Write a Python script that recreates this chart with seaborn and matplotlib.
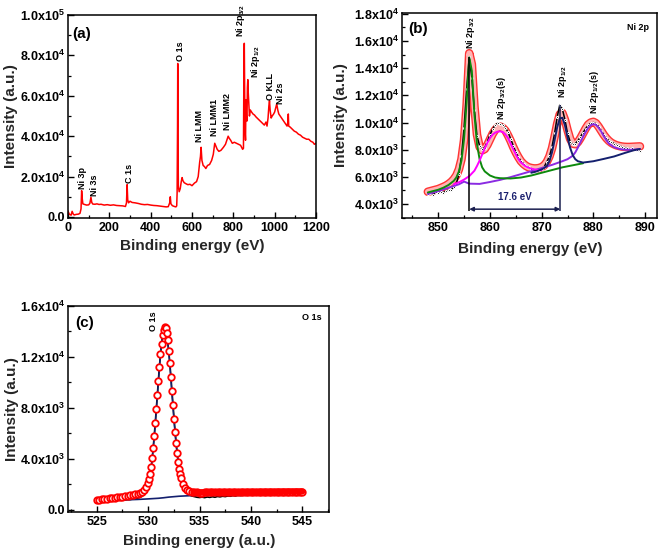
import numpy as np
import matplotlib
matplotlib.use("Agg")
import matplotlib.pyplot as plt
import matplotlib.patheffects as pe
import seaborn as sns
from matplotlib.ticker import MultipleLocator

# ---------------- data: (a) survey spectrum ----------------
survey_x = [0, 5, 10, 15, 20, 25, 30, 40, 50, 58, 63, 66, 69, 72, 80, 90, 100, 106, 111, 115,
            120, 130, 140, 150, 160, 175, 190, 205, 220, 235, 250, 265, 278, 283, 286, 289, 293,
            300, 310, 325, 340, 355, 370, 385, 400, 415, 430, 445, 460, 475, 485, 492, 495, 498,
            505, 515, 522, 526, 528, 530, 531, 532, 534, 538, 543, 548, 552, 556, 562, 570, 580,
            590, 600, 612, 622, 630, 637, 641, 644, 648, 654, 660, 667, 675, 685, 695, 703, 710,
            716, 722, 730, 740, 752, 762, 770, 775, 780, 787, 795, 805, 815, 825, 835, 845, 849,
            851, 853, 855, 857, 859, 861, 863, 866, 868, 870, 872, 875, 878, 882, 888, 895, 902,
            910, 920, 930, 940, 950, 958, 963, 968, 972, 975, 978, 983, 988, 995, 1000, 1005,
            1010, 1015, 1020, 1030, 1040, 1050, 1060, 1064, 1066, 1068, 1075, 1085, 1095, 1105,
            1115, 1125, 1135, 1145, 1155, 1165, 1175, 1185, 1192, 1200]
survey_y = [3000, 1500, 1200, 900, 2800, 1500, 1000, 1300, 1400, 1800, 4000, 13000, 9000, 6500,
            6200, 5900, 6000, 6800, 9800, 7200, 6400, 6300, 6500, 6200, 6300, 5900, 6100, 5800,
            6000, 5700, 5600, 5500, 5200, 7000, 16000, 8500, 7000, 7800, 7200, 7000, 6700, 6300,
            6100, 6200, 5900, 5700, 5600, 5400, 5200, 5000, 5100, 7000, 10000, 6500, 5600, 5200,
            5000, 5500, 12000, 45000, 76000, 42000, 15000, 12500, 14000, 17500, 19500, 18000,
            17000, 16500, 16000, 16200, 15500, 16800, 17500, 20000, 27000, 30000, 34500, 28000,
            25500, 25000, 24000, 25500, 26000, 28000, 31000, 36500, 35000, 33500, 32500, 33000,
            34500, 36000, 38500, 40000, 39000, 38000, 36500, 37000, 36500, 36000, 35500, 33500,
            34000, 70000, 86000, 60000, 42000, 38000, 58000, 50000, 47500, 64000, 68000, 62000,
            56000, 50000, 53000, 52000, 51000, 50500, 49500, 48500, 47500, 46500, 45500, 47000,
            45000, 49000, 55000, 57500, 53000, 49000, 50000, 51000, 52000, 54000, 56000, 53000,
            51000, 49500, 48000, 46500, 45000, 47000, 51000, 45000, 44500, 43500, 42500, 42000,
            41000, 40500, 39500, 39000, 38500, 38500, 37500, 37000, 36000, 36500]
survey_labels = ["Ni 3p", "Ni 3s", "C 1s", "O 1s", "Ni LMM", "Ni LMM1", "Ni LMM2",
                 "Ni 2p$_{3/2}$", "Ni 2p$_{1/2}$", "O KLL", "Ni 2s"]
survey_label_x = [68, 130, 300, 542, 635, 708, 773, 835, 909, 981, 1030]
survey_label_y = [14000, 10400, 17000, 77000, 37000, 40000, 43000, 89000, 69000, 58000, 56000]
survey_yticks = [0, 20000, 40000, 60000, 80000, 100000]
survey_yticklabels = ["0.0", "2.0x10$^{4}$", "4.0x10$^{4}$", "6.0x10$^{4}$", "8.0x10$^{4}$", "1.0x10$^{5}$"]

# ---------------- data: (b) Ni 2p ----------------
ni_x = np.arange(848.0, 889.01, 0.5)
ni_raw = [4750, 4820, 4690, 4860, 4780, 4920, 4840, 4960, 5010, 5040, 5220, 5480, 6200, 7500,
          9600, 12500, 14800, 13300, 10900, 9000, 8300, 8050, 8150, 8600, 9100, 9500, 9800,
          9950, 9900, 9850, 9600, 9300, 8800, 8300, 7800, 7450, 7150, 6950, 6800, 6700, 6600,
          6500, 6450, 6500, 6600, 6750, 7100, 7500, 8200, 9200, 10400, 11300, 11000, 10200,
          9200, 8600, 8400, 8450, 8650, 8950, 9250, 9550, 9800, 9950, 10000, 9900, 9700, 9400,
          9100, 8850, 8650, 8550, 8450, 8350, 8300, 8200, 8150, 8100, 8050, 8100, 7950, 8000, 7900]
ni_fit = [4900, 4950, 5000, 5050, 5100, 5180, 5260, 5350, 5470, 5620, 5820, 6100, 6550, 7300,
          8700, 11300, 15100, 14300, 11200, 9100, 8200, 7950, 8050, 8350, 8750, 9150, 9450,
          9650, 9700, 9600, 9400, 9050, 8650, 8200, 7800, 7450, 7150, 6950, 6800, 6700, 6650,
          6620, 6620, 6650, 6720, 6850, 7100, 7500, 8100, 8950, 9900, 10600, 10700, 10200,
          9450, 8800, 8450, 8400, 8550, 8850, 9200, 9550, 9850, 10000, 10050, 9950, 9700, 9400,
          9100, 8850, 8650, 8500, 8400, 8320, 8270, 8230, 8210, 8200, 8200, 8210, 8220, 8230, 8240]
green_x = [848, 849, 850, 851, 852, 853, 853.5, 854, 854.5, 855, 855.5, 856, 856.5, 857, 857.5,
           858, 858.5, 859, 860, 861, 862, 864, 866, 868, 870, 872, 874, 876, 878]
green_y = [4850, 4950, 5050, 5200, 5400, 5700, 5950, 6400, 7200, 8800, 11500, 14800, 13800,
           10600, 8400, 7300, 6700, 6400, 6100, 5950, 5900, 5880, 5950, 6100, 6300, 6500, 6700,
           6850, 7000]
magenta_x = [853, 854, 855, 856, 857, 857.5, 858, 858.5, 859, 859.5, 860, 860.5, 861, 861.5, 862,
             862.5, 863, 863.5, 864, 864.5, 865, 865.5, 866, 867, 868, 869, 870]
magenta_y = [5450, 5600, 5800, 6050, 6450, 6800, 7200, 7650, 8100, 8500, 8850, 9100, 9250, 9330,
             9350, 9300, 9120, 8850, 8450, 8050, 7650, 7300, 7050, 6750, 6600, 6520, 6500]
navy_x = [868, 869, 870, 870.5, 871, 871.5, 872, 872.5, 873, 873.5, 874, 874.5, 875, 875.5, 876,
          876.5, 877, 878, 880, 882, 884, 886, 888, 889]
navy_y = [6300, 6400, 6550, 6650, 6800, 7150, 7800, 8700, 9650, 10300, 10350, 9800, 8900, 8150,
          7600, 7300, 7150, 7050, 7150, 7320, 7500, 7750, 7980, 8050]
purple_x = [848, 850, 852, 854, 855, 856, 858, 860, 862, 864, 866, 868, 870, 872, 874, 875, 876,
            876.5, 877, 877.5, 878, 878.5, 879, 879.5, 880, 880.5, 881, 881.5, 882, 882.5, 883,
            884, 885, 886, 887, 888, 889]
purple_y = [4740, 4950, 5200, 5450, 5650, 5500, 5480, 5620, 5780, 5980, 6200, 6420, 6650, 6880,
            7150, 7300, 7550, 7800, 8150, 8550, 8950, 9300, 9600, 9800, 9880, 9820, 9620, 9350,
            9000, 8700, 8450, 8180, 8060, 8000, 7990, 8010, 8050]
ni_labels = ["Ni 2p$_{3/2}$", "Ni 2p$_{3/2}$(s)", "Ni 2p$_{1/2}$", "Ni 2p$_{1/2}$(s)"]
ni_label_x = [856.2, 862.3, 874.0, 880.3]
ni_label_y = [15400, 10200, 11800, 10600]
ni_peak_pos = [856.0, 873.6]
ni_peak_top = [14800, 11300]
ni_split_text = "17.6 eV"
ni_yticks = [4000, 6000, 8000, 10000, 12000, 14000, 16000, 18000]
ni_yticklabels = ["4.0x10$^{3}$", "6.0x10$^{3}$", "8.0x10$^{3}$", "1.0x10$^{4}$",
                  "1.2x10$^{4}$", "1.4x10$^{4}$", "1.6x10$^{4}$", "1.8x10$^{4}$"]

# ---------------- data: (c) O 1s ----------------
o_x = [525.0, 525.25, 525.5, 525.75, 526.0, 526.25, 526.5, 526.75, 527.0, 527.25, 527.5, 527.75,
       528.0, 528.25, 528.5, 528.75, 529.0, 529.2, 529.4, 529.6, 529.8, 530.0, 530.1, 530.2,
       530.3, 530.4, 530.5, 530.6, 530.7, 530.8, 530.9, 531.0, 531.1, 531.2, 531.3, 531.4,
       531.5, 531.6, 531.7, 531.8, 531.9, 532.0, 532.1, 532.2, 532.3, 532.4, 532.5, 532.6,
       532.7, 532.8, 532.9, 533.0, 533.1, 533.2, 533.4, 533.6, 533.8, 534.0, 534.25, 534.5,
       534.75, 535.0, 535.25, 535.5, 535.75, 536.0, 536.25, 536.5, 536.75, 537.0, 537.25,
       537.5, 537.75, 538.0, 538.25, 538.5, 538.75, 539.0, 539.25, 539.5, 539.75, 540.0,
       540.25, 540.5, 540.75, 541.0, 541.25, 541.5, 541.75, 542.0, 542.25, 542.5, 542.75,
       543.0, 543.25, 543.5, 543.75, 544.0, 544.25, 544.5, 544.75, 545.0]
o_fit = [800, 820, 845, 865, 890, 910, 935, 960, 985, 1010, 1040, 1070, 1100, 1140, 1180, 1230,
         1290, 1360, 1450, 1580, 1780, 2100, 2400, 2800, 3350, 4100, 4900, 5800, 6800, 7900,
         9000, 10100, 11200, 12200, 13000, 13700, 14150, 14350, 14250, 13900, 13300, 12500,
         11500, 10400, 9300, 8200, 7150, 6150, 5250, 4450, 3800, 3250, 2820, 2480, 2030, 1760,
         1600, 1500, 1440, 1400, 1380, 1370, 1372, 1374, 1377, 1379, 1381, 1383, 1386, 1388,
         1390, 1392, 1394, 1396, 1398, 1400, 1402, 1404, 1406, 1408, 1410, 1412, 1414, 1416,
         1418, 1420, 1422, 1424, 1426, 1428, 1430, 1432, 1434, 1436, 1438, 1440, 1442, 1444,
         1446, 1448, 1449, 1450]
o_raw = [700, 690, 720, 700, 740, 720, 760, 740, 780, 760, 800, 790, 830, 820, 860, 880, 930,
         990, 1080, 1250, 1550, 1950, 2300, 2750, 3350, 4100, 4950, 5900, 6900, 8000, 9100,
         10200, 11300, 12200, 13000, 13600, 14000, 14100, 14000, 13700, 13200, 12500, 11600,
         10600, 9500, 8450, 7400, 6400, 5500, 4700, 4000, 3400, 2900, 2500, 1950, 1600, 1350,
         1200, 1100, 1050, 1000, 980, 1010, 970, 1020, 990, 1040, 1000, 1060, 1030, 1080,
         1050, 1100, 1080, 1130, 1100, 1150, 1130, 1170, 1150, 1200, 1180, 1220, 1200, 1240,
         1230, 1270, 1250, 1290, 1280, 1310, 1300, 1330, 1320, 1350, 1340, 1370, 1360, 1390,
         1380, 1410, 1400]
o_bg_x = [525, 527, 529, 530, 531, 531.5, 532, 533, 534, 535, 540, 545]
o_bg_y = [720, 770, 830, 870, 920, 960, 1010, 1080, 1120, 1150, 1280, 1410]
o_dense_from = 534.5
o_yticks = [0, 4000, 8000, 12000, 16000]
o_yticklabels = ["0.0", "4.0x10$^{3}$", "8.0x10$^{3}$", "1.2x10$^{4}$", "1.6x10$^{4}$"]

# ---------------- style ----------------
sns.set_theme(style="white")
plt.rcParams.update({
    "font.family": ["Liberation Sans", "DejaVu Sans"],
    "font.weight": "bold",
    "axes.labelweight": "bold",
    "mathtext.fontset": "custom",
    "mathtext.rm": "Liberation Sans:bold",
    "mathtext.bf": "Liberation Sans:bold",
    "mathtext.it": "Liberation Sans:bold",
    "mathtext.default": "rm",
    "axes.edgecolor": "black",
    "axes.linewidth": 1.1,
    "xtick.color": "black",
    "ytick.color": "black",
    "text.color": "black",
})

W, H = 661, 553
fig = plt.figure(figsize=(W / 100, H / 100), dpi=100)


def rect(l, t, r, b):
    return [l / W, 1 - b / H, (r - l) / W, (b - t) / H]


def style_axes(ax, xmaj, xmin, ymin):
    ax.xaxis.set_major_locator(MultipleLocator(xmaj))
    ax.xaxis.set_minor_locator(MultipleLocator(xmin))
    ax.yaxis.set_minor_locator(MultipleLocator(ymin))
    ax.tick_params(which="both", direction="in", top=False, right=False, left=True, bottom=True)
    ax.tick_params(which="major", length=4, width=1, labelsize=9, pad=3)
    ax.tick_params(which="minor", length=2.2, width=0.9)
    ax.tick_params(axis="y", which="major", pad=2)
    for s in ax.spines.values():
        s.set_color("black")
        s.set_linewidth(1.1)
    for lab in ax.get_xticklabels() + ax.get_yticklabels():
        lab.set_fontweight("bold")


def labels(ax, xl, yl, xlx, xly, ylx):
    ax.set_xlabel(xl, fontsize=11, fontweight="bold")
    ax.set_ylabel(yl, fontsize=11, fontweight="bold")
    ax.xaxis.set_label_coords(xlx, xly)
    ax.xaxis.label.set_verticalalignment("center")
    ax.yaxis.set_label_coords(ylx, 0.5)
    ax.yaxis.label.set_verticalalignment("center")
    ax.yaxis.label.set_horizontalalignment("center")


# ---------------- (a) ----------------
axa = fig.add_axes(rect(68, 15, 316, 218))
sns.lineplot(x=survey_x, y=survey_y, ax=axa, color="#ff0000", linewidth=1.1,
             estimator=None, sort=False)
axa.set_xlim(0, 1200)
axa.set_ylim(-500, 100000)
axa.set_yticks(survey_yticks)
axa.set_yticklabels(survey_yticklabels)
style_axes(axa, 200, 100, 10000)
for lx, ly, lt in zip(survey_label_x, survey_label_y, survey_labels):
    axa.text(lx, ly, lt, rotation=90, ha="center", va="bottom", fontsize=6.5, fontweight="bold")
axa.text(0.018, 0.94, "(a)", transform=axa.transAxes, fontsize=11, fontweight="bold",
         ha="left", va="top")
labels(axa, "Binding energy (eV)", "Intensity (a.u.)", 0.5, -0.14, -0.23)

# ---------------- (b) ----------------
axb = fig.add_axes(rect(402, 12.5, 657, 218))
band = sns.lineplot(x=ni_x, y=ni_fit, ax=axb, color="#ffb4b4", linewidth=4.2, estimator=None,
                    sort=False, zorder=1)
band.lines[-1].set_path_effects([pe.Stroke(linewidth=6.2, foreground="#ff3434"), pe.Normal()])
band.lines[-1].set_solid_joinstyle("round")
band.lines[-1].set_solid_capstyle("round")
sns.lineplot(x=ni_x, y=ni_raw, ax=axb, color="black", linewidth=1.1, marker=".",
             markersize=3, estimator=None, sort=False, zorder=3)
sns.lineplot(x=purple_x, y=purple_y, ax=axb, color="#8a2be2", linewidth=1.4, estimator=None,
             sort=False, zorder=4)
sns.lineplot(x=green_x, y=green_y, ax=axb, color="#0d8a0d", linewidth=1.4, estimator=None,
             sort=False, zorder=4)
sns.lineplot(x=magenta_x, y=magenta_y, ax=axb, color="#ff00ff", linewidth=1.4, estimator=None,
             sort=False, zorder=4)
sns.lineplot(x=navy_x, y=navy_y, ax=axb, color="#14206e", linewidth=1.4, estimator=None,
             sort=False, zorder=4)
axb.vlines(ni_peak_pos[0], 3500, ni_peak_top[0], color="black", linewidth=1.1, zorder=5)
axb.vlines(ni_peak_pos[1], 3500, ni_peak_top[1], color="#1a1f4f", linewidth=1.1, zorder=5)
axb.annotate("", xy=(ni_peak_pos[0], 3620), xytext=(ni_peak_pos[1], 3620),
             arrowprops=dict(arrowstyle="<|-|>", color="#1a1f4f", lw=1.1,
                             mutation_scale=6, shrinkA=0, shrinkB=0))
axb.text((ni_peak_pos[0] + ni_peak_pos[1]) / 2, 4550, ni_split_text, ha="center", va="center",
         fontsize=7, fontweight="bold", color="#1a1f6e")
for lx, ly, lt in zip(ni_label_x, ni_label_y, ni_labels):
    axb.text(lx, ly, lt, rotation=90, ha="center", va="bottom", fontsize=6.5, fontweight="bold")
axb.set_xlim(843, 892.3)
axb.set_ylim(2970, 18100)
axb.set_yticks(ni_yticks)
axb.set_yticklabels(ni_yticklabels)
style_axes(axb, 10, 5, 1000)
axb.text(0.025, 0.955, "(b)", transform=axb.transAxes, fontsize=11, fontweight="bold",
         ha="left", va="top")
axb.text(0.97, 0.95, "Ni 2p", transform=axb.transAxes, fontsize=6.5, fontweight="bold",
         ha="right", va="top")
labels(axb, "Binding energy (eV)", "Intensity (a.u.)", 0.502, -0.151, -0.239)

# ---------------- (c) ----------------
axc = fig.add_axes(rect(68, 306, 329, 512))
sns.lineplot(x=o_x, y=o_raw, ax=axc, color="black", linewidth=1.2, estimator=None,
             sort=False, zorder=1)
sns.lineplot(x=o_bg_x, y=o_bg_y, ax=axc, color="#14206e", linewidth=1.2, estimator=None,
             sort=False, zorder=2)
sns.lineplot(x=o_x, y=o_fit, ax=axc, color="#14206e", linewidth=1.0, estimator=None,
             sort=False, zorder=2)
sns.scatterplot(x=o_x, y=o_fit, ax=axc, s=22, color="white", edgecolor="#ff0000",
                linewidth=1.3, zorder=3)
dense_x = [v for v in o_x if v >= o_dense_from]
dense_y = [f for v, f in zip(o_x, o_fit) if v >= o_dense_from]
sns.lineplot(x=dense_x, y=dense_y, ax=axc, color="#ff0000", linewidth=4.6, estimator=None,
             sort=False, zorder=4)
axc.lines[-1].set_solid_capstyle("round")
axc.set_xlim(522.2, 547.6)
axc.set_ylim(-157, 16000)
axc.set_yticks(o_yticks)
axc.set_yticklabels(o_yticklabels)
style_axes(axc, 5, 2.5, 2000)
axc.text(530.5, 14000, "O 1s", rotation=90, ha="center", va="bottom", fontsize=6.5,
         fontweight="bold")
axc.text(0.028, 0.95, "(c)", transform=axc.transAxes, fontsize=11, fontweight="bold",
         ha="left", va="top")
axc.text(0.972, 0.965, "O 1s", transform=axc.transAxes, fontsize=6.5, fontweight="bold",
         ha="right", va="top")
labels(axc, "Binding energy (a.u.)", "Intensity (a.u.)", 0.502, -0.141, -0.213)

fig.savefig("out.png", dpi=100)
